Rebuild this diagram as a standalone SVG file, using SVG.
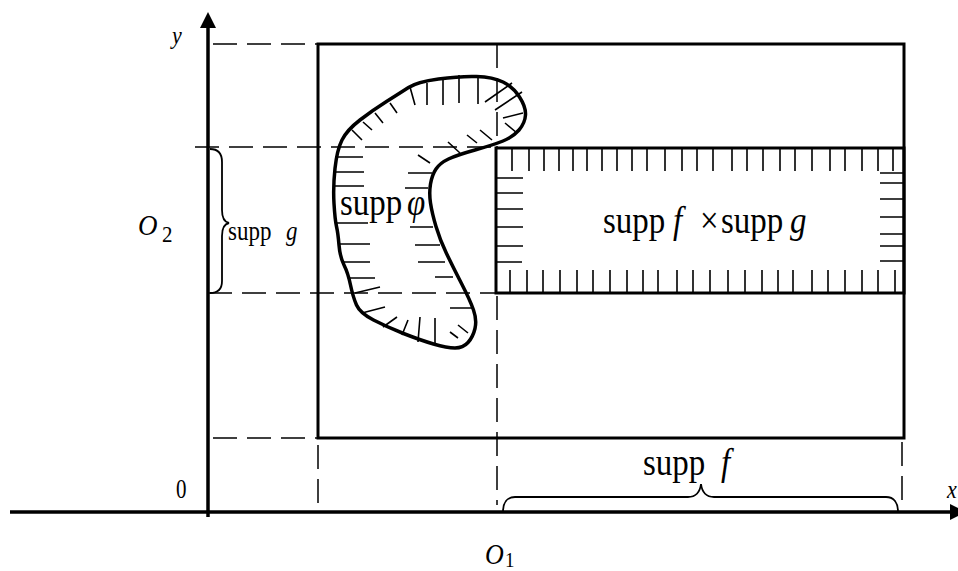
<svg xmlns="http://www.w3.org/2000/svg" width="958" height="571" viewBox="0 0 958 571">
<style>
.axis{stroke:#000;stroke-width:3.5;fill:none}
.frame{stroke:#000;stroke-width:3;fill:none}
.dash{stroke:#000;stroke-width:1.5;fill:none;stroke-dasharray:24 10}
.hatch{stroke:#000;stroke-width:1.6;fill:none}
.brace{stroke:#000;stroke-width:1.8;fill:none}
.blob{stroke:#000;stroke-width:3.5;fill:none;stroke-linejoin:round}
text{font-family:"Liberation Serif","Times New Roman",serif;fill:#000}
.it{font-style:italic}
</style>
<rect width="958" height="571" fill="#fff"/>
<g id="connectors">
  <path class="dash" d="M213,44 H318"/>
  <path class="dash" d="M195,147 H496"/>
  <path class="dash" d="M208,293 H496"/>
  <path class="dash" d="M213,438 H318"/>
  <path class="dash" d="M318,445 V505"/>
  <path class="dash" d="M497,44 V148"/>
  <path class="dash" d="M497,296 V505"/>
  <path class="dash" d="M902,442 V505"/>
</g>
<g id="axes">
  <path class="axis" d="M208,517 V27"/>
  <polygon points="208,12 200,28 216,28" fill="#000"/>
  <path class="axis" d="M10,512 H952"/>
  <polygon points="966,512 950,504 950,520" fill="#000"/>
  <text class="it" transform="translate(172,44) scale(1,1.15)" font-size="22">y</text>
  <text class="it" transform="translate(947,498) scale(1,1.15)" font-size="22">x</text>
  <text transform="translate(176,498) scale(1,1.25)" font-size="21">0</text>
</g>
<g id="outer-rect">
  <rect class="frame" x="318" y="44" width="586" height="394"/>
</g>
<g id="product-rect">
  <rect class="frame" x="496" y="148" width="408" height="145"/>
  <path class="hatch" d="M512,148V171M529,148V171M544,148V171M559,148V171M573,148V171M587,148V171M602,148V171M617,148V171M632,148V171M647,148V171M665,148V171M682,148V171M697,148V171M713,148V171M732,148V171M747,148V171M763,148V171M780,148V171M795,148V171M812,148V171M830,148V171M845,148V171M862,148V171M878,148V171M893,148V171"/>
  <path class="hatch" d="M510,270V293M527,270V293M543,270V293M560,270V293M577,270V293M593,270V293M610,270V293M627,270V293M643,270V293M658,270V293M677,270V293M693,270V293M710,270V293M728,270V293M745,270V293M762,270V293M778,270V293M793,270V293M812,270V293M828,270V293M845,270V293M862,270V293M878,270V293M895,270V293"/>
  <path class="hatch" d="M496,178H523M496,193H523M496,209H523M496,227H523M496,246H523M496,262H522"/>
  <path class="hatch" d="M880,173H904M880,183H904M880,199H904M880,217H904M880,234H904M880,246H904M880,261H904"/>
  <text transform="translate(603,233) scale(1,1.12)" font-size="33">supp<tspan class="it" x="70">f</tspan><tspan x="97">×</tspan><tspan x="118">supp</tspan><tspan class="it" x="187">g</tspan></text>
</g>
<g id="supp-phi">
  <path class="blob" d="M438.5,79 Q460,76 476.5,76.5 Q493,77 503,82 Q513,87 519.5,97 Q526,107 525.5,115 Q525,123 519,130 Q513,137 503,141 Q493,145 475,150 Q457,155 448.5,159 Q440,163 436,169 Q432,175 430.5,184 Q429,193 430.5,203 Q432,213 436,226.5 Q440,240 446.5,253.5 Q453,267 461.5,283.5 Q470,300 473.5,310 Q477,320 475,328.5 Q473,337 468,342.5 Q463,348 455,348 Q447,348 433.5,344 Q420,340 403.5,333.5 Q387,327 373.5,320 Q360,313 356.5,305 Q353,297 350.5,285 Q348,273 344,265 Q340,257 339,245 Q338,233 336.5,226.5 Q335,220 334,203.5 Q333,187 335,168.5 Q337,150 342,140 Q347,130 360,120 Q373,110 386.5,101.5 Q400,93 408.5,87.5 Q417,82 438.5,79 Z"/>
  <path class="hatch" d="M410,87L415,105M427,83V105M443,78V105M459,75V103M478,77V104M485,102L512,83M495,110L522,92M503,118L523,113M505,123L517,133M480,130L492,140M467,135L477,143M448,142L460,153M418,155L430,163M390,103L397,113M375,113L383,123M363,122L372,130M352,130L362,140"/>
  <path class="hatch" d="M335,157H363M334,172H364M334,186H364M337,223H368M340,244H370M342,262H370M350,278H375M355,293L380,287M362,313L385,307M383,327L397,317M402,335L408,320M418,342L420,317M435,343V318M450,332L458,338M458,325L468,333"/>
  <path class="hatch" d="M408,173H432M405,188H428M410,227H433M415,245H440M418,262H445M435,277H453M450,308H472"/>
  <text transform="translate(340,215) scale(1,1.12)" font-size="33">supp<tspan class="it" x="67">φ</tspan></text>
</g>
<g id="supp-g">
  <path class="brace" d="M210,149 C218,149 222,153 222,162 L222,210 C222,218 224,222 229,223 C224,224 222,228 222,236 L222,281 C222,289 218,293 210,293"/>
  <text transform="translate(228,240) scale(1,1.2)" font-size="23">supp<tspan class="it" x="58">g</tspan></text>
</g>
<g id="supp-f">
  <path class="brace" d="M503,512 C503,503 507,497 515,497 L688,497 C696,497 700,492 701,484 C702,492 706,497 714,497 L886,497 C894,497 898,503 898,512"/>
  <text transform="translate(643,475) scale(1,1.12)" font-size="33">supp<tspan class="it" x="78">f</tspan></text>
</g>
<g id="labels">
  <text transform="translate(138,235) scale(1,1.1)" font-size="27"><tspan class="it">O</tspan><tspan x="24" dy="6" font-size="21">2</tspan></text>
  <text transform="translate(485,564) scale(1,1.1)" font-size="26"><tspan class="it">O</tspan><tspan x="20" dy="3" font-size="19">1</tspan></text>
</g>
</svg>
